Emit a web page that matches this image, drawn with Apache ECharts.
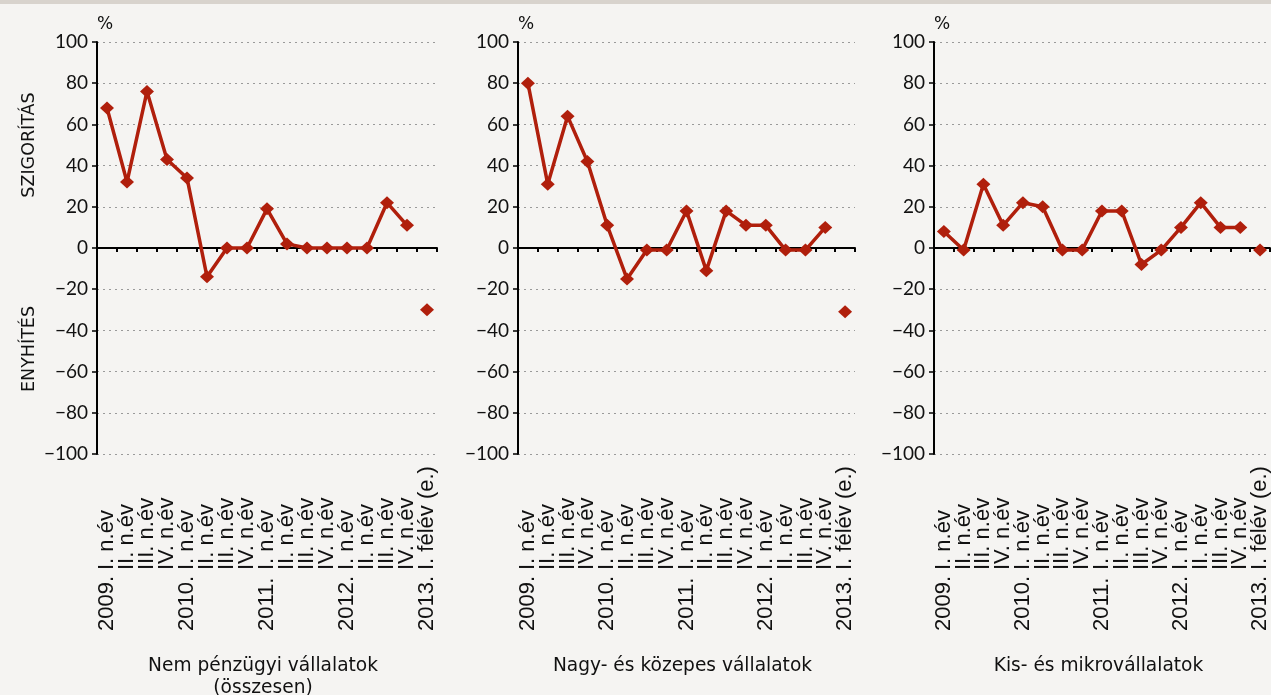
<!DOCTYPE html>
<html>
<head>
<meta charset="utf-8">
<script src="https://cdn.jsdelivr.net/npm/echarts@6/dist/echarts.min.js"></script>
<style>
  html, body { margin: 0; padding: 0; background: #f5f4f2; }
  #chart { width: 1271px; height: 695px; }
</style>
</head>
<body>
<div id="chart"></div>
<script>
// Period labels (quarters 2009–2012, then the 2013 H1 estimate)
const periods = [
  '2009. I. n.év', 'II. n.év', 'III. n.év', 'IV. n.év',
  '2010. I. n.év', 'II. n.év', 'III. n.év', 'IV. n.év',
  '2011. I. n.év', 'II. n.év', 'III. n.év', 'IV. n.év',
  '2012. I. n.év', 'II. n.év', 'III. n.év', 'IV. n.év',
  '2013. I. félév (e.)'
];

// Net share of banks tightening (+) / easing (−) credit conditions, %
const nemPenzugyi = [68, 32, 76, 43, 34, -14, 0, 0, 19, 2, 0, 0, 0, 0, 22, 11, -30];
const nagyKozepes = [80, 31, 64, 42, 11, -15, -1, -1, 18, -11, 18, 11, 11, -1, -1, 10, -31];
const kisMikro    = [8, -1, 31, 11, 22, 20, -1, -1, 18, 18, -8, -1, 10, 22, 10, 10, -1];

const panelTitles = ['Nem pénzügyi vállalatok\n(összesen)', 'Nagy- és közepes vállalatok', 'Kis- és mikrovállalatok'];
const panelData = [nemPenzugyi, nagyKozepes, kisMikro];

const yTicks = { min: -100, max: 100, step: 20 };

const RED = '#b01f0c';
const SANS = '"DejaVu Sans", sans-serif';
const ARIAL = '"Liberation Sans", Arial, sans-serif';
const NUM = 'Lato, sans-serif';

const grids = [
  { left: 97,  top: 42, width: 340, height: 412 },
  { left: 518, top: 42, width: 337, height: 412 },
  { left: 934, top: 42, width: 337, height: 412 }
];

// year prefix sits in its own fixed-width column so the quarter parts line up
function periodLabel(s) {
  const m = s.match(/^(\d{4}\.) (.*)$/);
  return m ? '{y|' + m[1] + '}{q|' + m[2] + '}' : '{y| }{q|' + s + '}';
}

const xAxes = [];
const yAxes = [];
const series = [];
const graphics = [
  { type: 'rect', left: 0, top: 0, shape: { width: 1271, height: 4 }, style: { fill: '#d8d3cd' } }
];

grids.forEach((g, i) => {
  // zero line with boundary ticks
  xAxes.push({
    type: 'category', gridIndex: i, data: periods, boundaryGap: true,
    axisLine: { onZero: true, lineStyle: { color: '#000', width: 2 } },
    axisTick: { show: true, interval: 0, length: 4, lineStyle: { color: '#000', width: 2 } },
    axisLabel: { show: false },
    splitLine: { show: false }
  });
  // period labels along the bottom
  xAxes.push({
    type: 'category', gridIndex: i, data: periods, boundaryGap: true,
    position: 'bottom', offset: 166,
    axisLine: { show: false, onZero: false },
    axisTick: { show: false },
    splitLine: { show: false },
    axisLabel: {
      interval: 0, rotate: 90, align: 'left', verticalAlign: 'middle', margin: 11,
      formatter: periodLabel,
      rich: {
        y: { width: 61, fontSize: 22, fontFamily: ARIAL, color: '#111' },
        q: { fontSize: 22, fontFamily: ARIAL, color: '#111' }
      }
    }
  });
  yAxes.push({
    type: 'value', gridIndex: i, min: yTicks.min, max: yTicks.max, interval: yTicks.step,
    name: '%', nameLocation: 'end', nameGap: 9,
    nameTextStyle: { align: 'left', fontSize: 17, fontFamily: SANS, color: '#111' },
    axisLine: { show: true, lineStyle: { color: '#000', width: 2 } },
    axisTick: { show: true, length: 5, lineStyle: { color: '#000', width: 1.5 } },
    axisLabel: {
      margin: 9, fontSize: 19, fontFamily: NUM, color: '#111',
      formatter: v => (v < 0 ? '\u2212' + Math.abs(v) : String(v))
    },
    splitLine: { show: true, lineStyle: { color: '#9a9a9a', width: 1, type: [2, 4] } }
  });

  const vals = panelData[i];
  const last = vals.length - 1;
  series.push({
    type: 'line', xAxisIndex: i * 2, yAxisIndex: i,
    data: vals.map((v, k) => (k < last ? v : '-')),
    symbol: 'diamond', symbolSize: [14, 13], connectNulls: false,
    lineStyle: { color: RED, width: 3.5 },
    itemStyle: { color: RED, opacity: 1 },
    z: 3
  });
  series.push({
    type: 'scatter', xAxisIndex: i * 2, yAxisIndex: i,
    data: vals.map((v, k) => (k === last ? v : '-')),
    symbol: 'diamond', symbolSize: [14, 13],
    itemStyle: { color: RED, opacity: 1 },
    z: 3
  });

  graphics.push({
    type: 'text', x: g.left + g.width / 2 - 4, y: 655,
    style: {
      text: panelTitles[i], fill: '#111', font: '18.6px ' + SANS,
      textAlign: 'center', textVerticalAlign: 'top', lineHeight: 22
    }
  });
});

// side captions of the first panel
graphics.push({
  type: 'text', x: 29, y: 145, rotation: Math.PI / 2,
  style: { text: 'SZIGORÍTÁS', fill: '#111', font: '17.5px ' + SANS, textAlign: 'center', textVerticalAlign: 'middle' }
});
graphics.push({
  type: 'text', x: 29, y: 349, rotation: Math.PI / 2,
  style: { text: 'ENYHÍTÉS', fill: '#111', font: '17.5px ' + SANS, textAlign: 'center', textVerticalAlign: 'middle' }
});

const chart = echarts.init(document.getElementById('chart'), null, { renderer: 'canvas' });
chart.setOption({
  backgroundColor: '#f5f4f2',
  animation: false,
  grid: grids,
  xAxis: xAxes,
  yAxis: yAxes,
  series: series,
  graphic: graphics
});
</script>
</body>
</html>
